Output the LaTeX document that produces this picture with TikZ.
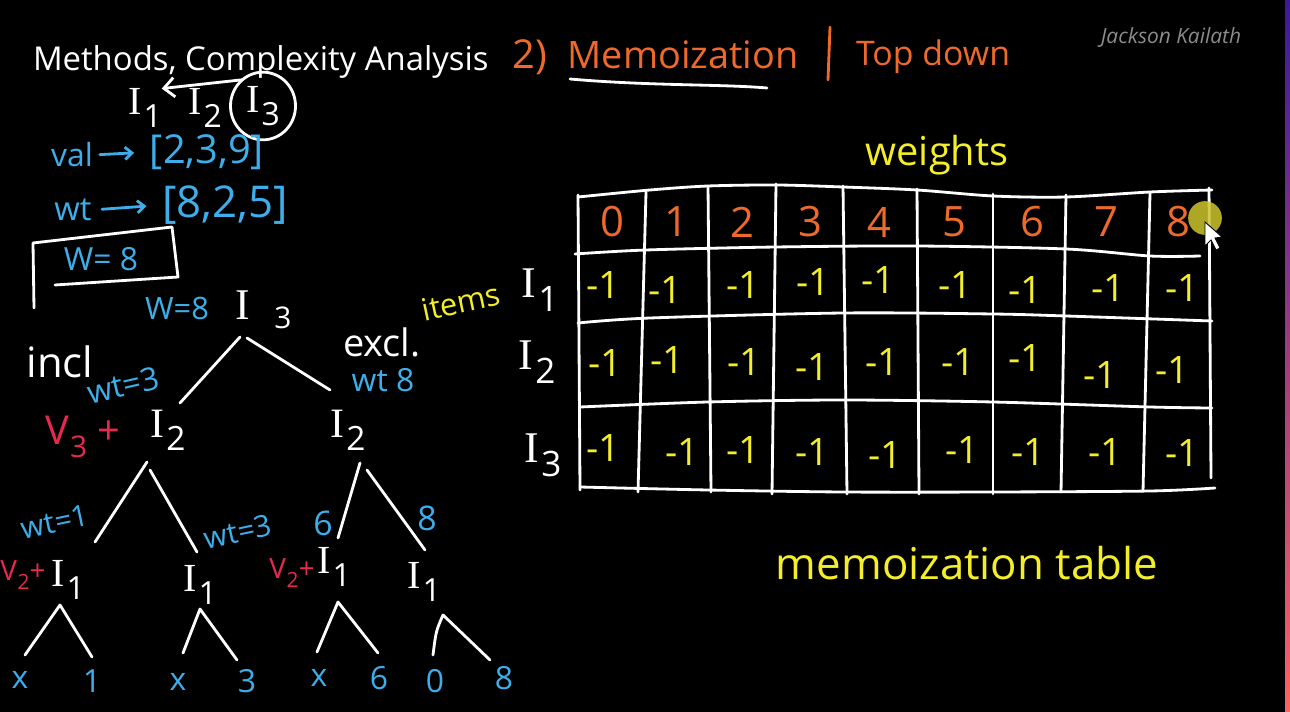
\documentclass[tikz,border=0pt]{standalone}
\usepackage{fontspec}
\usepackage{graphicx}
\setmainfont{Open Sans}
\newfontfamily\serifI{Liberation Serif}
\usetikzlibrary{calc,arrows.meta,shapes.geometric}
\definecolor{hblue}{HTML}{3DAEEA}
\definecolor{horange}{HTML}{EE6A2C}
\definecolor{hred}{HTML}{E8294F}
\definecolor{hyellow}{HTML}{F4EE2A}
\definecolor{hgray}{HTML}{8C8C8C}
\definecolor{stripTop}{HTML}{3A1A9A}
\definecolor{stripBot}{HTML}{FF6262}
\newcommand{\fsz}[1]{\fontsize{\fpeval{#1*0.5669}pt}{\fpeval{#1*0.68}pt}\selectfont}
\newcommand{\Isub}[1]{{\serifI I}\kern0.05em\raisebox{-0.32em}{\scalebox{0.8}{#1}}}
\newcommand{\Vsub}[1]{V\kern0.02em\raisebox{-0.32em}{\scalebox{0.75}{#1}}}
\begin{document}
\begin{tikzpicture}[x=0.02cm,y=-0.02cm,
  wline/.style={draw=white,line width=1.6pt,line cap=round,line join=round},
  oline/.style={draw=horange,line width=1.6pt,line cap=round},
  bline/.style={draw=hblue,line width=1.6pt,line cap=round},
  wtxt/.style={text=white,inner sep=0pt,outer sep=0pt},
  btxt/.style={text=hblue,inner sep=0pt,outer sep=0pt},
  otxt/.style={text=horange,inner sep=0pt,outer sep=0pt},
  rtxt/.style={text=hred,inner sep=0pt,outer sep=0pt},
  ytxt/.style={text=hyellow,inner sep=0pt,outer sep=0pt},
  barrow/.style={bline,-{Straight Barb[length=4pt,width=7pt]}},
  warrow/.style={wline,-{Straight Barb[length=6pt,width=11pt]}}
]
\fill[black] (0,0) rectangle (1290,712);
\useasboundingbox (0,0) rectangle (1290,712);
\shade[top color=stripTop,bottom color=stripBot] (1285,0) rectangle (1290,712);

% ---------- heading ----------
\node[wtxt,anchor=base west,font=\fsz{33}] (title) at (33,71) {Methods, Complexity Analysis};
\node[otxt,font=\fsz{40}] (two) at (530,57) {2)};
\node[otxt,font=\fsz{38}] (memo) at (683,55) {Memoization};
\draw[wline] (570,79) .. controls (650,86) and (720,84) .. (767,88);
\draw[oline] (830,27) -- (828,80);
\node[otxt,font=\fsz{34}] (topdown) at (933,57) {Top down};
\node[text=hgray,inner sep=0pt,font=\itshape\fsz{21}] (author) at (1171,38) {Jackson Kailath};

% ---------- items ----------
\node[wtxt,font=\fsz{40}] (i1) at (145,108) {\Isub{1}};
\node[wtxt,font=\fsz{40}] (i2) at (205,108) {\Isub{2}};
\node[wtxt,font=\fsz{40},ellipse,draw=white,line width=1.6pt,minimum width=37pt,minimum height=38.5pt] (i3) at (263,106) {\Isub{3}};
\draw[warrow] (i3.128) -- (i1.north east);

\node[btxt,font=\fsz{32}] (val) at (72,155) {val};
\node[btxt,font=\fsz{40}] (vallist) at (207,152) {[2,3,9]};
\draw[barrow,shorten <=4pt,shorten >=9pt] (val.east) -- (vallist.west);
\node[btxt,font=\fsz{33}] (wt) at (73,210) {wt};
\node[btxt,font=\fsz{44}] (wtlist) at (225,205) {[8,2,5]};
\draw[barrow,shorten <=6pt,shorten >=9pt] (wt.east) -- (wtlist.west);

\draw[wline] (34,308) -- (33,243) -- (172,227) -- (178,277) -- (55,285);
\node[btxt,font=\fsz{32}] (wbox) at (101,259) {W= 8};

% ---------- recursion tree ----------
\node[btxt,font=\fsz{31}] (rootw) at (177,308) {W=8};
\node[wtxt,font=\fsz{44}] (root) at (243,305) {\serifI I};
\node[wtxt,font=\fsz{30}] (root3) at (283,318) {3};
\node[wtxt,font=\fsz{42}] (incl) at (60,362) {incl};
\node[wtxt,font=\fsz{38}] (excl) at (382,342) {excl.};
\node[ytxt,font=\fsz{31},rotate=12] (items) at (461,302) {items};
\node[btxt,font=\fsz{32},rotate=13] (wtA) at (123,385) {wt=3};
\node[btxt,font=\fsz{32}] (wtB) at (383,380) {wt 8};

\node[rtxt,font=\fsz{40}] (v3) at (83,437) {\Vsub{3} +};
\node[wtxt,font=\fsz{42}] (L2a) at (168,430) {\Isub{2}};
\node[wtxt,font=\fsz{42}] (L2b) at (348,430) {\Isub{2}};
\draw[wline] ($(root)+(-3,32)$) -- ($(L2a)+(12,-27)$);
\draw[wline] ($(root)+(4,33)$) -- ($(L2b)+(-18,-40)$);

\node[btxt,font=\fsz{30},rotate=12] (wtC) at (55,522) {wt=1};
\node[btxt,font=\fsz{30},rotate=12] (wtD) at (238,532) {wt=3};
\node[btxt,font=\fsz{34}] (six) at (323,523) {6};
\node[btxt,font=\fsz{34}] (eight) at (427,518) {8};

\node[rtxt,font=\fsz{28}] (v2a) at (23,575) {\Vsub{2}+};
\node[wtxt,font=\fsz{40}] (L3a) at (68,580) {\Isub{1}};
\node[wtxt,font=\fsz{40}] (L3b) at (200,585) {\Isub{1}};
\node[rtxt,font=\fsz{28}] (v2b) at (292,573) {\Vsub{2}+};
\node[wtxt,font=\fsz{40}] (L3c) at (334,567) {\Isub{1}};
\node[wtxt,font=\fsz{40}] (L3d) at (424,582) {\Isub{1}};
\draw[wline] ($(L2a)+(-21,32)$) -- ($(L3a)+(27,-38)$);
\draw[wline] ($(L2a)+(-18,40)$) -- ($(L3b)+(-3,-33)$);
\draw[wline] ($(L2b)+(12,33)$) -- ($(L3c)+(4,-29)$);
\draw[wline] ($(L2b)+(19,40)$) -- ($(L3d)+(1,-32)$);

\foreach \n/\x/\y/\t in {la1/20/680/x, la2/92/681/1, lb1/178/682/x, lb2/247/681/3,
                         lc1/319/678/x, lc2/379/678/6, ld1/435/681/0, ld2/504/678/8}
  \node[btxt,font=\fsz{32}] (\n) at (\x,\y) {\t};
\draw[wline] ($(la1)+(5,-25)$) -- ($(L3a)+(-8,25)$) -- ($(la2)+(0,-24)$);
\draw[wline] ($(lb1)+(5,-29)$) -- ($(L3b)+(0,24)$) -- ($(lb2)+(-10,-21)$);
\draw[wline] ($(lc1)+(-2,-26)$) -- ($(L3c)+(4,35)$) -- ($(lc2)+(-1,-25)$);
\draw[wline] ($(ld1)+(-2,-26)$) .. controls ($(ld1)+(1,-50)$) .. ($(L3d)+(19,33)$) -- ($(ld2)+(-14,-18)$);

% ---------- memoization table ----------
\node[ytxt,font=\fsz{40}] (weights) at (937,155) {weights};
\draw[wline] plot[smooth,tension=0.5] coordinates {(578,197) (650,190) (708,186) (777,185) (843,187) (917,190) (993,196) (1066,197) (1150,192) (1212,190)};
\draw[wline] plot[smooth,tension=0.5] coordinates {(575,254) (646,250) (776,247) (917,246) (1066,249) (1150,256) (1200,256)};
\draw[wline] plot[smooth,tension=0.5] coordinates {(578,323) (650,318) (843,313) (993,314) (1066,316) (1212,321)};
\draw[wline] plot[smooth,tension=0.5] coordinates {(580,407) (708,402) (843,400) (993,402) (1150,407) (1212,408)};
\draw[wline] plot[smooth,tension=0.5] coordinates {(580,487) (708,490) (843,492) (993,492) (1150,491) (1215,488)};
\foreach \a/\b/\ta/\tb in {578/580/195/490, 646/638/192/492, 708/711/186/492, 776/772/184/494,
                           843/847/186/494, 917/919/189/494, 993/993/194/494, 1066/1061/195/492,
                           1150/1143/193/491, 1209/1211/188/478}
  \draw[wline] (\a,\ta) -- (\b,\tb);

\foreach \i/\x in {0/612,1/676,2/742,3/810,4/879,5/954,6/1032,7/1106,8/1178}
  \node[otxt,font=\fsz{42}] (h\i) at (\x,222) {\i};

\node[wtxt,font=\fsz{44}] (r1) at (540,290) {\Isub{1}};
\node[wtxt,font=\fsz{44}] (r2) at (537,362) {\Isub{2}};
\node[wtxt,font=\fsz{44}] (r3) at (543,455) {\Isub{3}};

\foreach \c/\x/\y in {0/603/285,1/665/290,2/743/285,3/813/282,4/878/280,5/955/285,6/1025/290,7/1108/288,8/1182/288}
  \node[ytxt,font=\fsz{38}] (a\c) at (\x,\y) {-1};
\foreach \c/\x/\y in {0/605/363,1/667/360,2/744/362,3/812/367,4/882/362,5/958/362,6/1025/358,7/1100/375,8/1172/370}
  \node[ytxt,font=\fsz{38}] (b\c) at (\x,\y) {-1};
\foreach \c/\x/\y in {0/603/448,1/682/452,2/743/450,3/812/452,4/885/455,5/962/450,6/1028/452,7/1105/452,8/1182/453}
  \node[ytxt,font=\fsz{38}] (c\c) at (\x,\y) {-1};

\node[ytxt,font=\fsz{44}] (memotab) at (967,563) {memoization table};

% ---------- pointer ----------
\fill[yellow!78!black,opacity=0.85] (1205,218) circle (9.6pt);
\draw[black,line width=0.5pt,fill=white] (1205,222) -- (1205,246) -- (1211,240) -- (1216,250) -- (1220,248) -- (1215,238) -- (1222,237) -- cycle;
\end{tikzpicture}
\end{document}
